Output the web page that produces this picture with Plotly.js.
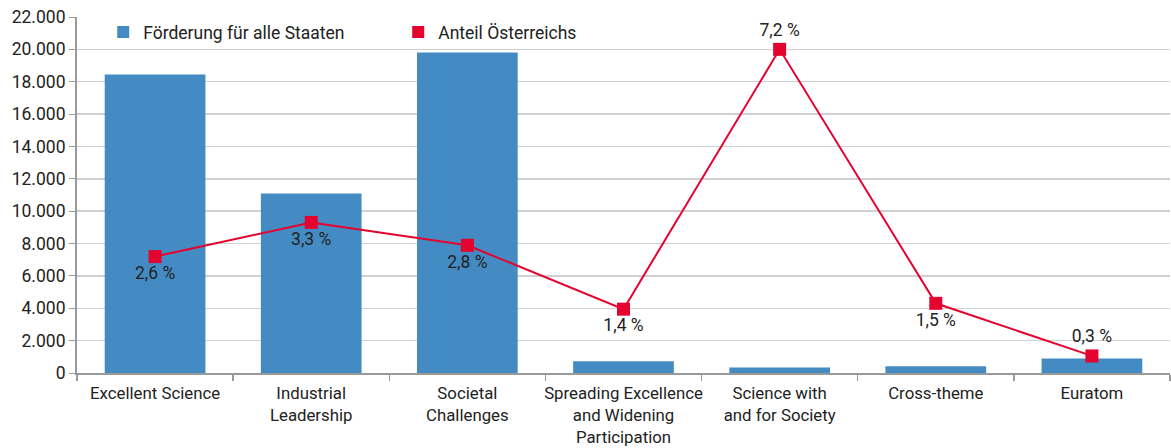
<!DOCTYPE html>
<html>
<head>
<meta charset="utf-8">
<script src="https://cdn.plot.ly/plotly-3.0.1.min.js"></script>
<style>html,body{margin:0;padding:0;background:#fff;}#chart{width:1171px;height:448px;}</style>
</head>
<body>
<div id="chart"></div>
<script>
const categories = [
  'Excellent Science',
  'Industrial<br>Leadership',
  'Societal<br>Challenges',
  'Spreading Excellence<br>and Widening<br>Participation',
  'Science with<br>and for Society',
  'Cross-theme',
  'Euratom'
];
const funding = [18450, 11100, 19800, 730, 340, 420, 900];
const austriaShare = [2.59, 3.35, 2.84, 1.42, 7.2, 1.55, 0.38];
const shareLabels = ['2,6 %', '3,3 %', '2,8 %', '1,4 %', '7,2 %', '1,5 %', '0,3 %'];
const labelPos = ['bottom center','bottom center','bottom center','bottom center','top center','bottom center','top center'];
const seriesNames = ['Förderung für alle Staaten', 'Anteil Österreichs'];

const blue = '#458bc3';
const red = '#e4032e';
const font = {family: 'Roboto, "Noto Sans", sans-serif', size: 17.5, color: '#222'};
const xfont = {family: 'Roboto, "Noto Sans", sans-serif', size: 16.8, color: '#222'};

const traces = [
  {
    type: 'bar', x: categories, y: funding, name: seriesNames[0],
    marker: {color: blue}, width: 0.645, hoverinfo: 'skip'
  },
  {
    type: 'scatter', mode: 'lines+markers+text', x: categories, y: austriaShare,
    yaxis: 'y2', name: seriesNames[1], showlegend: false,
    line: {color: red, width: 2}, marker: {color: red, symbol: 'square', size: 13},
    text: shareLabels, textposition: labelPos, textfont: font, cliponaxis: false
  },
  {
    type: 'bar', x: [categories[0]], y: [null], name: seriesNames[1],
    marker: {color: red}, showlegend: true, hoverinfo: 'skip'
  }
];

const layout = {
  width: 1171, height: 448,
  margin: {l: 77, r: 1, t: 17, b: 75},
  paper_bgcolor: '#fff', plot_bgcolor: '#fff',
  font: font,
  separators: ',.',
  barmode: 'overlay',
  showlegend: true,
  legend: {orientation: 'h', x: 0.024, xanchor: 'left', y: 1.008, yanchor: 'top',
           font: font, bgcolor: 'rgba(0,0,0,0)', traceorder: 'normal', entrywidth: 250},
  xaxis: {
    type: 'category', showgrid: false, showline: true, linecolor: '#999', linewidth: 2,
    ticks: 'outside', tickson: 'boundaries', ticklen: 6, tickcolor: '#999', tickwidth: 1.5,
    tickfont: xfont, tickangle: 0, ticklabelstandoff: 4, automargin: false, fixedrange: true
  },
  yaxis: {
    range: [0, 22000], dtick: 2000, tickformat: ',d', showgrid: true, gridcolor: '#d0d0d0', gridwidth: 1.5,
    showline: true, linecolor: '#999', linewidth: 2, ticks: 'outside', ticklen: 6, tickcolor: '#999',
    tickfont: font, zeroline: false, automargin: false, fixedrange: true
  },
  yaxis2: {
    overlaying: 'y', range: [0, 22000 / 2778], visible: false, fixedrange: true
  }
};

Plotly.newPlot('chart', traces, layout, {displayModeBar: false, staticPlot: true});
</script>
</body>
</html>
